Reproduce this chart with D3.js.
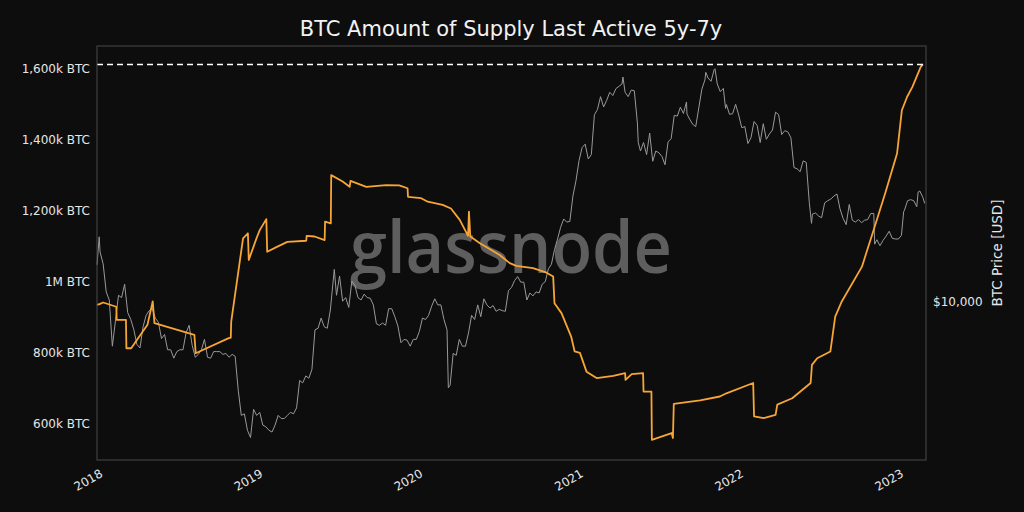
<!DOCTYPE html>
<html>
<head>
<meta charset="utf-8">
<script src="https://cdn.jsdelivr.net/npm/d3@7/dist/d3.min.js"></script>
<style>
  html, body { margin: 0; padding: 0; background: #0d0d0d; }
  svg { display: block; }
</style>
</head>
<body>
<div id="chart"></div>
<script>
// Supply last active 5y-7y (thousand BTC)
const supplyDates = [
  "2018-01-01","2018-01-08","2018-01-15","2018-02-14","2018-02-15","2018-03-08","2018-03-09","2018-03-20",
  "2018-04-26","2018-05-08","2018-05-12","2018-08-11","2018-08-14","2018-10-27","2018-11-02","2018-11-03",
  "2018-11-30","2018-12-11","2018-12-13","2018-12-31","2019-01-07","2019-01-22","2019-01-24","2019-02-14",
  "2019-03-11","2019-04-23","2019-04-24","2019-05-12","2019-06-04","2019-06-05","2019-06-18","2019-06-19",
  "2019-07-15","2019-07-31","2019-08-02","2019-09-07","2019-10-22","2019-11-21","2019-12-10","2019-12-11",
  "2020-01-10","2020-01-25","2020-02-28","2020-03-18","2020-04-07","2020-04-26","2020-04-28","2020-05-01",
  "2020-05-23","2020-07-07","2020-07-30","2020-08-14","2020-09-21","2020-10-22","2020-11-06","2020-11-09",
  "2020-11-25","2020-12-17","2020-12-25","2021-01-06","2021-01-21","2021-02-13","2021-03-23","2021-04-19",
  "2021-04-20","2021-05-04","2021-05-30","2021-05-31","2021-06-18","2021-06-19","2021-08-03","2021-08-06",
  "2021-08-08","2021-10-07","2021-11-21","2021-12-06","2022-02-05","2022-02-07","2022-03-01","2022-03-28",
  "2022-04-01","2022-05-05","2022-06-16","2022-06-19","2022-07-01","2022-07-31","2022-08-11","2022-08-26",
  "2022-10-11","2022-10-23","2022-11-03","2022-12-03","2022-12-30","2023-01-10","2023-01-22","2023-02-03",
  "2023-02-22","2023-02-27"
];
const supplyValues = [
  935, 938, 942, 930, 893, 893, 813, 813,
  879, 945, 884, 851, 799, 841, 843, 888,
  1123, 1137, 1062, 1124, 1146, 1177, 1085, 1098,
  1113, 1116, 1130, 1128, 1118, 1170, 1165, 1301,
  1283, 1268, 1285, 1268, 1273, 1272, 1264, 1240,
  1236, 1226, 1217, 1207, 1175, 1130, 1198, 1128,
  1109, 1076, 1053, 1045, 1039, 1026, 1015, 940,
  912, 846, 804, 800, 747, 729, 735, 743,
  724, 740, 743, 691, 691, 555, 574, 560,
  656, 666, 677, 686, 715, 621, 616, 625,
  654, 672, 715, 766, 785, 804, 902, 945,
  1043, 1090, 1132, 1250, 1362, 1484, 1522, 1550,
  1606, 1613
];

// BTC price (USD), roughly weekly
const priceDates = [
  "2018-01-01","2018-01-06","2018-01-08","2018-01-15","2018-01-22","2018-01-29","2018-02-05","2018-02-12","2018-02-19","2018-02-26",
  "2018-03-05","2018-03-12","2018-03-19","2018-03-26","2018-04-02","2018-04-09","2018-04-16","2018-04-23","2018-04-30","2018-05-07",
  "2018-05-14","2018-05-21","2018-05-28","2018-06-04","2018-06-11","2018-06-18","2018-06-25","2018-07-02","2018-07-09","2018-07-16",
  "2018-07-23","2018-07-30","2018-08-06","2018-08-13","2018-08-20","2018-08-27","2018-09-03","2018-09-10","2018-09-17","2018-09-24",
  "2018-10-01","2018-10-08","2018-10-15","2018-10-22","2018-10-29","2018-11-05","2018-11-12","2018-11-19","2018-11-26","2018-12-03",
  "2018-12-10","2018-12-17","2018-12-24","2018-12-31",
  "2019-01-07","2019-01-14","2019-01-21","2019-01-28","2019-02-04","2019-02-11","2019-02-18","2019-02-25","2019-03-04","2019-03-11",
  "2019-03-18","2019-03-25","2019-04-01","2019-04-08","2019-04-15","2019-04-22","2019-04-29","2019-05-06","2019-05-13","2019-05-20",
  "2019-05-27","2019-06-03","2019-06-10","2019-06-17","2019-06-26","2019-07-01","2019-07-08","2019-07-15","2019-07-22","2019-07-29",
  "2019-08-05","2019-08-12","2019-08-19","2019-08-26","2019-09-02","2019-09-09","2019-09-16","2019-09-23","2019-09-30","2019-10-07",
  "2019-10-14","2019-10-21","2019-10-28","2019-11-04","2019-11-11","2019-11-18","2019-11-25","2019-12-02","2019-12-09","2019-12-16",
  "2019-12-23","2019-12-30",
  "2020-01-06","2020-01-13","2020-01-20","2020-01-27","2020-02-03","2020-02-10","2020-02-17","2020-02-24","2020-03-02","2020-03-09",
  "2020-03-12","2020-03-16","2020-03-23","2020-03-30","2020-04-06","2020-04-13","2020-04-20","2020-04-27","2020-05-04","2020-05-11",
  "2020-05-18","2020-05-25","2020-06-01","2020-06-08","2020-06-15","2020-06-22","2020-06-29","2020-07-06","2020-07-13","2020-07-20",
  "2020-07-27","2020-08-03","2020-08-10","2020-08-17","2020-08-24","2020-08-31","2020-09-07","2020-09-14","2020-09-21","2020-09-28",
  "2020-10-05","2020-10-12","2020-10-19","2020-10-26","2020-11-02","2020-11-09","2020-11-16","2020-11-23","2020-11-30","2020-12-07",
  "2020-12-14","2020-12-21","2020-12-28",
  "2021-01-04","2021-01-11","2021-01-18","2021-01-25","2021-02-01","2021-02-08","2021-02-15","2021-02-22","2021-03-01","2021-03-08",
  "2021-03-15","2021-03-22","2021-03-29","2021-04-05","2021-04-12","2021-04-14","2021-04-19","2021-04-26","2021-05-03","2021-05-10",
  "2021-05-17","2021-05-19","2021-05-24","2021-05-31","2021-06-07","2021-06-14","2021-06-21","2021-06-28","2021-07-05","2021-07-12",
  "2021-07-19","2021-07-26","2021-08-02","2021-08-09","2021-08-16","2021-08-23","2021-08-30","2021-09-06","2021-09-07","2021-09-13",
  "2021-09-20","2021-09-27","2021-10-04","2021-10-11","2021-10-18","2021-10-20","2021-10-25","2021-11-01","2021-11-08","2021-11-10",
  "2021-11-15","2021-11-22","2021-11-29","2021-12-04","2021-12-06","2021-12-13","2021-12-20","2021-12-27",
  "2022-01-03","2022-01-10","2022-01-17","2022-01-24","2022-01-31","2022-02-07","2022-02-14","2022-02-21","2022-02-28","2022-03-07",
  "2022-03-14","2022-03-21","2022-03-28","2022-04-04","2022-04-11","2022-04-18","2022-04-25","2022-05-02","2022-05-09","2022-05-16",
  "2022-05-23","2022-05-30","2022-06-06","2022-06-13","2022-06-18","2022-06-20","2022-06-27","2022-07-04","2022-07-11","2022-07-18",
  "2022-07-25","2022-08-01","2022-08-08","2022-08-15","2022-08-22","2022-08-29","2022-09-05","2022-09-12","2022-09-19","2022-09-26",
  "2022-10-03","2022-10-10","2022-10-17","2022-10-24","2022-10-31","2022-11-07","2022-11-09","2022-11-14","2022-11-21","2022-11-28",
  "2022-12-05","2022-12-12","2022-12-19","2022-12-26",
  "2023-01-02","2023-01-09","2023-01-14","2023-01-16","2023-01-23","2023-01-30","2023-02-06","2023-02-13","2023-02-16","2023-02-20",
  "2023-02-27","2023-03-03"
];
const priceValues = [
  13500, 17000, 15000, 13600, 10800, 10100, 6900, 8500, 10500, 10300,
  11500, 9100, 8600, 7900, 7000, 6800, 8100, 8900, 9250, 9400,
  8700, 8400, 7350, 7600, 6700, 6700, 6250, 6600, 6700, 6700,
  7700, 8200, 6950, 6300, 6450, 6700, 7300, 6300, 6250, 6600,
  6600, 6600, 6450, 6500, 6300, 6450, 6350, 4800, 3900, 3950,
  3450, 3250, 4100, 3900,
  4000, 3600, 3550, 3450, 3400, 3600, 3900, 3800, 3800, 3900,
  4000, 3950, 4150, 5200, 5100, 5400, 5300, 5700, 7900, 8000,
  8700, 8100, 8000, 9300, 13000, 10500, 12300, 10000, 10300, 9500,
  11800, 11400, 10300, 10100, 10600, 10300, 10250, 9700, 8300, 8200,
  8350, 8200, 9400, 9400, 8800, 8150, 7100, 7300, 7250, 6900,
  7300, 7300,
  7800, 8700, 8600, 8900, 9600, 10200, 9700, 9700, 8600, 7900,
  4900, 5000, 6500, 6400, 7300, 6900, 6900, 7700, 8900, 8600,
  9700, 8800, 10200, 9700, 9450, 9650, 9200, 9350, 9250, 9200,
  10900, 11200, 11850, 12250, 11700, 11700, 10100, 10700, 10450, 10800,
  10700, 11500, 11750, 13050, 13550, 15300, 16700, 18400, 19700, 19200,
  19300, 23800, 27000,
  31900, 35500, 36500, 32300, 33500, 46500, 48600, 54000, 49600, 52400,
  56000, 54500, 57700, 58800, 60000, 63500, 56000, 54000, 57000, 56700,
  43500, 37000, 34500, 37000, 33500, 40000, 31700, 34500, 34000, 33000,
  30800, 37200, 38200, 46300, 46000, 49500, 47000, 51700, 46800, 44900,
  43000, 42200, 49200, 57500, 62000, 66000, 63000, 61300, 67500, 68000,
  60000, 56300, 57800, 49000, 50600, 46700, 46900, 50700,
  46400, 41800, 42200, 36700, 38500, 44000, 42600, 37000, 43200, 38000,
  39700, 41000, 47500, 46600, 39500, 40800, 40400, 38500, 30100, 29800,
  29100, 31800, 31400, 22500, 19000, 20500, 20700, 20200, 19900, 22500,
  22900, 23200, 23800, 24200, 21400, 19800, 18800, 22200, 19500, 19200,
  19600, 19100, 19500, 19600, 20600, 20600, 16000, 16600, 15800, 16500,
  17100, 17800, 16800, 16700,
  16700, 17200, 20900, 21200, 22900, 23100, 22900, 21800, 24600, 24800,
  23500, 22400
];

const supplyTicks = [600, 800, 1000, 1200, 1400, 1600];
const supplyTickLabels = ["600k BTC", "800k BTC", "1M BTC", "1,200k BTC", "1,400k BTC", "1,600k BTC"];
const priceTicks = [10000];
const yearTicks = ["2018", "2019", "2020", "2021", "2022", "2023"];

const width = 1024, height = 512;
const margin = { top: 46, right: 98, bottom: 52, left: 97 };
const bg = "#0d0d0d";
const textColor = "#e6e6e6";
const orange = "#f7a535";
const parse = d3.timeParse("%Y-%m-%d");

const svg = d3.select("#chart")
  .append("svg")
  .attr("width", width)
  .attr("height", height)
  .style("background", bg)
  .style("font-family", "'DejaVu Sans', sans-serif");

const x = d3.scaleTime()
  .domain([parse("2018-01-01"), parse("2023-03-06")])
  .range([margin.left, width - margin.right]);

const y = d3.scaleLinear()
  .domain([498, 1665])
  .range([height - margin.bottom, margin.top]);

const yPrice = d3.scaleLog()
  .domain([2700, 82000])
  .range([height - margin.bottom, margin.top]);

// Title
svg.append("text")
  .attr("x", 511)
  .attr("y", 36)
  .attr("text-anchor", "middle")
  .style("fill", "#f2f2f2")
  .style("font-size", "21px")
  .text("BTC Amount of Supply Last Active 5y-7y");

// Watermark
svg.append("text")
  .attr("x", 511)
  .attr("y", 273)
  .attr("text-anchor", "middle")
  .attr("textLength", 322)
  .attr("lengthAdjust", "spacingAndGlyphs")
  .style("fill", "#5e5e5e")
  .style("font-family", "'Open Sans', sans-serif")
  .style("font-weight", 600)
  .style("font-size", "72px")
  .text("glassnode");

// Price line
const price = priceDates.map((d, i) => ({ date: parse(d), value: priceValues[i] }));
svg.append("path")
  .datum(price)
  .attr("fill", "none")
  .attr("stroke", "#999999")
  .attr("stroke-width", 1)
  .attr("d", d3.line().x(d => x(d.date)).y(d => yPrice(d.value)));

// Supply line
const supply = supplyDates.map((d, i) => ({ date: parse(d), value: supplyValues[i] }));
svg.append("path")
  .datum(supply)
  .attr("fill", "none")
  .attr("stroke", orange)
  .attr("stroke-width", 1.8)
  .attr("stroke-linejoin", "round")
  .attr("d", d3.line().x(d => x(d.date)).y(d => y(d.value)));

// Dashed line at the series maximum
const maxSupply = d3.max(supplyValues);
svg.append("line")
  .attr("x1", margin.left)
  .attr("x2", width - margin.right)
  .attr("y1", y(maxSupply))
  .attr("y2", y(maxSupply))
  .attr("stroke", "#ffffff")
  .attr("stroke-width", 1.5)
  .attr("stroke-dasharray", "6,4");

// Plot frame
svg.append("rect")
  .attr("x", margin.left)
  .attr("y", margin.top)
  .attr("width", width - margin.left - margin.right)
  .attr("height", height - margin.top - margin.bottom)
  .attr("fill", "none")
  .attr("stroke", "#4a4a4a")
  .attr("stroke-width", 1);

// Left axis
const leftAxis = svg.append("g")
  .attr("transform", `translate(${margin.left},0)`)
  .call(d3.axisLeft(y).tickValues(supplyTicks).tickSize(0).tickPadding(7)
    .tickFormat((d, i) => supplyTickLabels[i]));
leftAxis.select(".domain").remove();
leftAxis.selectAll("text").style("fill", textColor).style("font-size", "12px")
  .style("font-family", "'DejaVu Sans', sans-serif");

// Right axis
const rightAxis = svg.append("g")
  .attr("transform", `translate(${width - margin.right},0)`)
  .call(d3.axisRight(yPrice).tickValues(priceTicks).tickSize(0).tickPadding(7)
    .tickFormat(d => "$" + d3.format(",")(d)));
rightAxis.select(".domain").remove();
rightAxis.selectAll("text").style("fill", textColor).style("font-size", "12px")
  .style("font-family", "'DejaVu Sans', sans-serif");

svg.append("text")
  .attr("transform", `translate(1002,253) rotate(-90)`)
  .attr("text-anchor", "middle")
  .style("fill", textColor)
  .style("font-size", "13.5px")
  .text("BTC Price [USD]");

// Bottom axis
const bottomAxis = svg.append("g")
  .attr("transform", `translate(0,${height - margin.bottom})`)
  .call(d3.axisBottom(x).tickValues(yearTicks.map(d => parse(d + "-01-01")))
    .tickSize(0).tickFormat(d3.timeFormat("%Y")));
bottomAxis.select(".domain").remove();
bottomAxis.selectAll("text")
  .attr("y", 0)
  .attr("dy", 0)
  .attr("text-anchor", "end")
  .attr("transform", "translate(6,16) rotate(-30)")
  .style("fill", textColor)
  .style("font-size", "12px")
  .style("font-family", "'DejaVu Sans', sans-serif");
</script>
</body>
</html>
